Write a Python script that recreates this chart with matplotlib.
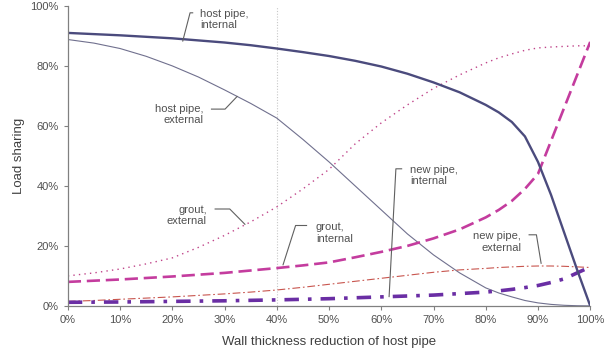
import matplotlib
matplotlib.use("Agg")
import matplotlib.pyplot as plt

plt.rcParams['font.family'] = ['Liberation Sans', 'DejaVu Sans']

# wall thickness reduction (%)
wall_loss = [0, 5, 10, 15, 20, 25, 30, 35, 40, 45, 50, 55, 60, 65, 70, 75,
             80, 82.5, 85, 87.5, 90, 92.5, 95, 97.5, 100]

# load sharing (%)
host_internal = [91, 90.6, 90.2, 89.7, 89.2, 88.5, 87.8, 86.9, 85.8, 84.6, 83.3, 81.7, 79.8, 77.4, 74.5, 71.2,
                 67, 64.5, 61.3, 56.5, 48, 37, 24.5, 12, 0]
host_external = [88.8, 87.6, 85.8, 83.2, 80, 76.3, 72, 67.5, 62.6, 55.5, 48, 40, 32, 24, 17, 11,
                 6, 4.3, 3, 1.8, 1, 0.5, 0.2, 0.05, 0]
grout_external = [10, 11, 12.3, 14, 16, 19.5, 23.5, 28, 33, 39, 45.5, 54, 61, 67, 72.5, 77,
                  81, 82.7, 84, 85.2, 86, 86.3, 86.5, 86.7, 86.7]
grout_internal = [8, 8.4, 8.8, 9.3, 9.8, 10.4, 11, 11.8, 12.6, 13.5, 14.5, 16.2, 18, 20, 22.5, 25.5,
                  29.5, 32, 35, 39, 44, 55, 66, 77, 88]
new_external = [1.5, 1.8, 2.2, 2.6, 3, 3.5, 4, 4.6, 5.3, 6.2, 7.2, 8.2, 9.2, 10.2, 11.2, 12,
                12.5, 12.8, 13, 13.2, 13.3, 13.3, 13.2, 13, 12.8]
new_internal = [1.2, 1.25, 1.3, 1.4, 1.5, 1.6, 1.7, 1.85, 2, 2.2, 2.4, 2.7, 3, 3.3, 3.6, 4.1,
                4.6, 5, 5.5, 6.1, 6.8, 7.8, 9, 11, 13]

txt_col = '#505050'
lead_col = '#606060'

fig = plt.figure(figsize=(6.11, 3.48), dpi=100)
ax = fig.add_axes([0.111, 0.121, 0.855, 0.862])

ax.axvline(40, color='#c8c8c8', lw=0.8, ls=(0, (1, 1.5)), zorder=0)

ax.plot(wall_loss, host_external, color='#70708e', lw=0.8)
ax.plot(wall_loss, grout_external, color='#c0458a', lw=1.0, ls=(0, (1, 3)))
ax.plot(wall_loss, new_external, color='#c8554e', lw=0.8, ls=(0, (7, 2.5, 1.5, 2.5)))
ax.plot(wall_loss, grout_internal, color='#c43c9e', lw=1.9, ls=(0, (5, 2.2)))
ax.plot(wall_loss, new_internal, color='#6a2ea4', lw=2.6, ls=(0, (4, 2.5, 1, 2.5)))
ax.plot(wall_loss, host_internal, color='#4b4b7d', lw=1.7)

# labels with leader lines
labels = [
    ("host pipe,\ninternal", 25.3, 95.5, 'left', [(23.9, 97.7), (23.4, 97.7), (22.0, 88.3)]),
    ("host pipe,\nexternal", 25.9, 63.7, 'right', [(27.5, 65.6), (30.1, 65.6), (32.4, 69.8)]),
    ("grout,\nexternal", 26.6, 30.2, 'right', [(28.2, 32.3), (31.0, 32.3), (33.9, 27.2)]),
    ("grout,\ninternal", 47.5, 24.3, 'left', [(45.7, 26.8), (43.6, 26.8), (41.2, 13.7)]),
    ("new pipe,\ninternal", 65.5, 43.5, 'left', [(63.9, 45.7), (62.8, 45.7), (61.5, 3.1)]),
    ("new pipe,\nexternal", 86.8, 21.3, 'right', [(88.3, 23.7), (89.7, 23.7), (90.6, 14.2)]),
]
for text, tx, ty, ha, pts in labels:
    ax.text(tx, ty, text, ha=ha, va='center', fontsize=8, color=txt_col,
            multialignment=ha, linespacing=1.15)
    ax.plot([p[0] for p in pts], [p[1] for p in pts], color=lead_col, lw=0.8)

ax.set_xlim(0, 100)
ax.set_ylim(0, 100)
ax.set_xticks(range(0, 101, 10))
ax.set_xticklabels([f"{v}%" for v in range(0, 101, 10)])
ax.set_yticks(range(0, 101, 20))
ax.set_yticklabels([f"{v}%" for v in range(0, 101, 20)])
ax.tick_params(colors='#808080', labelcolor=txt_col, labelsize=8, length=3, width=0.8)

for side in ['top', 'right']:
    ax.spines[side].set_visible(False)
for side in ['left', 'bottom']:
    ax.spines[side].set_color('#808080')
    ax.spines[side].set_linewidth(0.9)

ax.set_xlabel('Wall thickness reduction of host pipe', fontsize=9.5, color='#404040', labelpad=8)
ax.set_ylabel('Load sharing', fontsize=9.5, color='#404040', labelpad=4)

fig.savefig('out.png', dpi=100)
